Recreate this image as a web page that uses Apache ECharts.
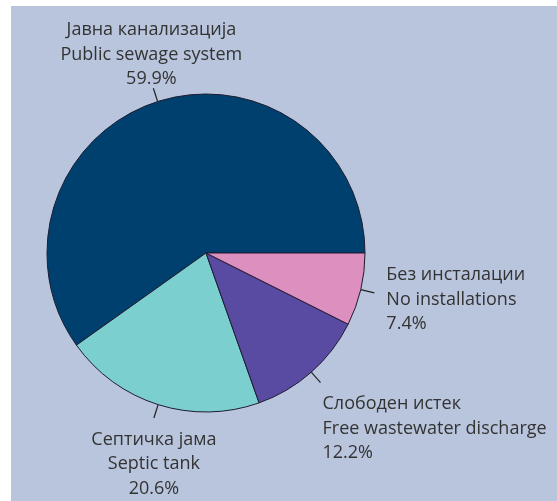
<!DOCTYPE html>
<html><head><meta charset="utf-8">
<script src="https://cdn.jsdelivr.net/npm/echarts@6/dist/echarts.min.js"></script>
<style>html,body{margin:0;padding:0;background:#fff;} #c{position:absolute;left:11px;top:6px;width:546px;height:495px;}</style>
</head><body><div id="c"></div>
<script>
const namesMk = ['Јавна канализација', 'Септичка јама', 'Слободен истек', 'Без инсталации'];
const namesEn = ['Public sewage system', 'Septic tank', 'Free wastewater discharge', 'No installations'];
const values = [59.9, 20.6, 12.2, 7.4];
const colors = ['#00406f', '#7bcfce', '#5a4ba2', '#dd8fc0'];

const chart = echarts.init(document.getElementById('c'));
const data = values.map((v, i) => ({ value: v, name: namesEn[i], itemStyle: { color: colors[i] } }));
chart.setOption({
  backgroundColor: '#b9c5dd',
  animation: false,
  series: [{
    type: 'pie',
    center: [195, 247],
    radius: 159,
    startAngle: 0,
    clockwise: false,
    data: data,
    itemStyle: { borderColor: '#1d1d30', borderWidth: 1 },
    label: {
      position: 'outside',
      formatter: p => namesMk[p.dataIndex] + '\n' + namesEn[p.dataIndex] + '\n' + p.value.toFixed(1) + '%',
      fontFamily: 'Open Sans',
      fontSize: 18,
      lineHeight: 24.5,
      color: '#333333',
      width: 270,
      overflow: 'none'
    },
    labelLine: { show: true, length: 14, length2: 0, lineStyle: { color: '#222', width: 1.2 } },
    labelLayout: function (p) {
      const pts = p.labelLinePoints;
      const e = pts[pts.length - 1];
      const i = p.dataIndex;
      let o;
      if (i === 0) o = { x: e[0] - 2, y: e[1] + 3, align: 'center', verticalAlign: 'bottom' };
      else if (i === 1) o = { x: e[0], y: e[1] + 9.5, align: 'center', verticalAlign: 'top' };
      else if (i === 2) o = { x: e[0] + 2, y: e[1] + 9, align: 'left', verticalAlign: 'top' };
      else o = { x: e[0] + 12, y: e[1] + 7, align: 'left', verticalAlign: 'middle' };
      o.labelLinePoints = pts;
      return o;
    }
  }]
});
</script></body></html>
